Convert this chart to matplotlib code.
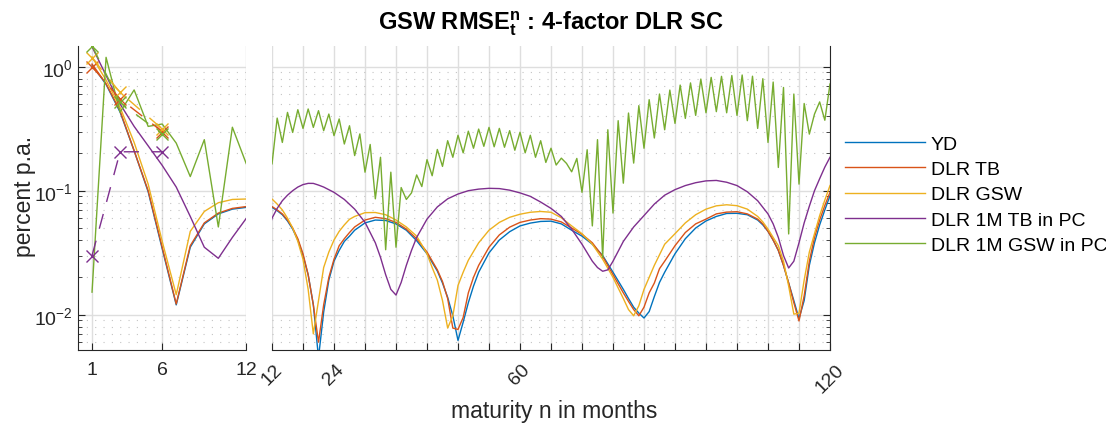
import numpy as np
import matplotlib
matplotlib.use("Agg")
import matplotlib.pyplot as plt
from matplotlib.ticker import LogLocator, FixedLocator, FixedFormatter, NullFormatter

plt.rcParams['font.family'] = ['Liberation Sans', 'DejaVu Sans']
plt.rcParams['mathtext.fontset'] = 'custom'
plt.rcParams['mathtext.rm'] = 'Liberation Sans'
plt.rcParams['mathtext.it'] = 'Liberation Sans:italic'
plt.rcParams['mathtext.bf'] = 'Liberation Sans:bold'

# ---- data, maturities in months ----
yd_m = [1, 2, 3, 4, 5, 6, 7, 8, 9, 10, 11, 12, 13, 14, 15, 16, 17, 18, 19, 20,
        21, 22, 23, 24, 25, 26, 27, 28, 30, 32, 34, 36, 38, 40, 42, 44, 45, 46,
        47, 48, 49, 50, 51, 52, 54, 56, 58, 60, 62, 64, 66, 68, 70, 72, 74, 76,
        78, 80, 81, 82, 83, 84, 85, 86, 87, 88, 90, 92, 94, 96, 98, 100, 102,
        104, 106, 107, 108, 109, 110, 111, 112, 113, 114, 115, 116, 117, 118,
        119, 120]
yd = [1.03, 0.72, 0.43, 0.21, 0.098, 0.034, 0.012, 0.035, 0.054, 0.065, 0.071,
      0.0734, 0.069, 0.064, 0.057, 0.049, 0.04, 0.03, 0.021, 0.012, 0.0045,
      0.0105, 0.019, 0.027, 0.033, 0.039, 0.043, 0.048, 0.055, 0.058, 0.0575,
      0.054, 0.048, 0.0395, 0.031, 0.0225, 0.018, 0.0138, 0.0098, 0.0062,
      0.0087, 0.0125, 0.017, 0.022, 0.0315, 0.04, 0.0467, 0.052, 0.0548,
      0.0565, 0.0568, 0.054, 0.048, 0.043, 0.037, 0.03, 0.022, 0.016, 0.0135,
      0.0115, 0.0103, 0.0094, 0.0106, 0.014, 0.0182, 0.022, 0.031, 0.041,
      0.05, 0.057, 0.062, 0.0655, 0.0657, 0.064, 0.058, 0.053, 0.047, 0.04,
      0.033, 0.025, 0.018, 0.013, 0.0093, 0.013, 0.025, 0.038, 0.053, 0.07,
      0.091]

tb_m = [1, 2, 3, 4, 5, 6, 7, 8, 9, 10, 11, 12, 13, 14, 15, 16, 17, 18, 19, 20,
        21, 22, 23, 24, 25, 26, 27, 28, 30, 32, 34, 36, 38, 40, 42, 44, 45, 46,
        47, 48, 49, 50, 51, 52, 54, 56, 58, 60, 62, 64, 66, 68, 70, 72, 74, 76,
        78, 80, 81, 82, 83, 84, 85, 86, 87, 88, 90, 92, 94, 96, 98, 100, 102,
        104, 106, 107, 108, 109, 110, 111, 112, 113, 114, 115, 116, 117, 118,
        119, 120]
tb = [1.05, 0.73, 0.44, 0.21, 0.1, 0.035, 0.0122, 0.036, 0.055, 0.066, 0.072,
      0.0745, 0.07, 0.065, 0.058, 0.05, 0.041, 0.031, 0.021, 0.012, 0.006,
      0.012, 0.02, 0.028, 0.036, 0.041, 0.046, 0.051, 0.058, 0.061, 0.0595,
      0.0555, 0.049, 0.041, 0.032, 0.023, 0.0185, 0.0135, 0.0078, 0.0076,
      0.0095, 0.015, 0.02, 0.025, 0.035, 0.044, 0.0508, 0.0555, 0.058, 0.0595,
      0.059, 0.056, 0.05, 0.0445, 0.038, 0.0295, 0.021, 0.015, 0.0128, 0.011,
      0.0098, 0.0115, 0.015, 0.018, 0.0235, 0.027, 0.036, 0.046, 0.054, 0.059,
      0.065, 0.0672, 0.0677, 0.065, 0.059, 0.054, 0.047, 0.04, 0.033, 0.025,
      0.018, 0.0125, 0.0089, 0.0142, 0.027, 0.042, 0.058, 0.076, 0.097]

gsw_m = [1, 2, 3, 4, 5, 6, 7, 8, 9, 10, 11, 12, 13, 14, 15, 16, 17, 18, 19, 20,
         21, 22, 23, 24, 25, 26, 27, 28, 30, 32, 34, 36, 38, 40, 42, 43, 44, 45,
         46, 47, 48, 49, 50, 52, 54, 56, 58, 60, 62, 64, 66, 68, 70, 72, 74, 76,
         78, 80, 81, 82, 83, 84, 85, 86, 88, 90, 92, 94, 96, 98, 100, 102, 104,
         106, 107, 108, 109, 110, 111, 112, 113, 114, 115, 116, 117, 118, 119,
         120]
gsw = [1.2, 0.78, 0.47, 0.245, 0.113, 0.039, 0.0145, 0.047, 0.068, 0.08, 0.085,
       0.0857, 0.078, 0.07, 0.06, 0.05, 0.039, 0.028, 0.016, 0.007, 0.013,
       0.024, 0.032, 0.04, 0.047, 0.053, 0.0588, 0.062, 0.0665, 0.0667, 0.064,
       0.058, 0.051, 0.043, 0.031, 0.024, 0.019, 0.013, 0.0078, 0.0098, 0.0172,
       0.022, 0.0275, 0.038, 0.048, 0.0555, 0.061, 0.0646, 0.067, 0.068, 0.067,
       0.0605, 0.052, 0.045, 0.037, 0.028, 0.02, 0.0135, 0.011, 0.0098, 0.0118,
       0.016, 0.02, 0.025, 0.037, 0.045, 0.055, 0.064, 0.071, 0.0755, 0.077,
       0.0757, 0.071, 0.062, 0.056, 0.049, 0.042, 0.036, 0.027, 0.017, 0.0101,
       0.0103, 0.019, 0.032, 0.045, 0.063, 0.084, 0.11]

pctb_m = [1, 2, 3, 4, 5, 6, 7, 8, 9, 10, 11, 12, 13, 14, 15, 16, 17, 18, 19, 20,
          21, 22, 24, 26, 28, 30, 32, 33, 34, 35, 36, 37, 38, 39, 40, 42, 44,
          46, 48, 50, 52, 54, 56, 58, 60, 62, 64, 66, 68, 70, 72, 74, 75, 76,
          77, 78, 80, 82, 84, 86, 88, 90, 92, 94, 96, 98, 100, 102, 104, 106,
          108, 109, 110, 111, 112, 113, 114, 115, 116, 117, 118, 119, 120]
pctb = [1.45, 0.85, 0.5, 0.33, 0.23, 0.16, 0.107, 0.062, 0.035, 0.0285, 0.042,
        0.06, 0.072, 0.083, 0.092, 0.1, 0.107, 0.112, 0.1146, 0.1145, 0.111,
        0.107, 0.097, 0.085, 0.071, 0.0556, 0.038, 0.029, 0.021, 0.016, 0.0144,
        0.0182, 0.025, 0.033, 0.042, 0.059, 0.074, 0.086, 0.094, 0.1, 0.103,
        0.1045, 0.104, 0.101, 0.096, 0.09, 0.081, 0.072, 0.062, 0.049, 0.037,
        0.027, 0.024, 0.0224, 0.023, 0.027, 0.039, 0.051, 0.063, 0.078, 0.092,
        0.102, 0.11, 0.116, 0.12, 0.121, 0.117, 0.11, 0.098, 0.083, 0.065,
        0.054, 0.042, 0.03, 0.0238, 0.027, 0.038, 0.055, 0.075, 0.1, 0.125,
        0.155, 0.186]

pcgsw_m = list(range(1, 121))
pcgsw = [0.0152, 1.19, 0.43, 0.65, 0.33, 0.345, 0.242, 0.13, 0.258, 0.051,
         0.325, 0.164, 0.385, 0.245, 0.428, 0.295, 0.45, 0.318, 0.456, 0.324,
         0.442, 0.305, 0.415, 0.278, 0.379, 0.238, 0.334, 0.192, 0.287, 0.141,
         0.236, 0.086, 0.186, 0.0334, 0.141, 0.035, 0.106, 0.085, 0.096, 0.134,
         0.108, 0.178, 0.132, 0.215, 0.157, 0.253, 0.186, 0.28, 0.202, 0.302,
         0.22, 0.314, 0.228, 0.324, 0.226, 0.318, 0.224, 0.305, 0.212, 0.296,
         0.202, 0.28, 0.186, 0.253, 0.169, 0.22, 0.161, 0.183, 0.166, 0.142,
         0.182, 0.097, 0.214, 0.052, 0.258, 0.0288, 0.31, 0.066, 0.367, 0.115,
         0.423, 0.167, 0.485, 0.22, 0.542, 0.266, 0.602, 0.31, 0.648, 0.349,
         0.711, 0.383, 0.74, 0.405, 0.795, 0.425, 0.82, 0.434, 0.836, 0.425,
         0.85, 0.405, 0.857, 0.367, 0.838, 0.318, 0.8, 0.245, 0.752, 0.154,
         0.68, 0.0448, 0.602, 0.113, 0.505, 0.286, 0.415, 0.52, 0.37, 0.725]

# dashed x-marker series at selected maturities
sel_m = [1, 3, 6]
sel_tb = [1.0, 0.55, 0.30]
sel_gsw = [1.18, 0.62, 0.315]
sel_pctb = [0.030, 0.206, 0.206]
sel_pcgsw = [1.48, 0.515, 0.286]

labels = ["YD", "DLR TB", "DLR GSW", "DLR 1M TB in PC", "DLR 1M GSW in PC"]
colors = ["#0072BD", "#D95319", "#EDB120", "#7E2F8E", "#77AC30"]
series = [(yd_m, yd), (tb_m, tb), (gsw_m, gsw), (pctb_m, pctb), (pcgsw_m, pcgsw)]

axcol = "#262626"
W, H = 1106, 427
fig = plt.figure(figsize=(W / 100, H / 100), dpi=100)
axL = fig.add_axes([78 / W, 76.3 / H, 168.4 / W, 304 / H])
axR = fig.add_axes([272 / W, 76.3 / H, 558 / W, 304 / H])

handles = []
for ax in (axL, axR):
    for (m, v), c, lab in zip(series, colors, labels):
        ln, = ax.plot(m, v, color=c, lw=1.0, label=lab)
        if ax is axR:
            handles.append(ln)
    ax.set_yscale("log")
    ax.set_ylim(0.00522, 1.477)
    ax.yaxis.set_major_locator(LogLocator(base=10, numticks=10))
    ax.yaxis.set_minor_locator(LogLocator(base=10, subs=np.arange(2, 10), numticks=10))
    ax.set_axisbelow(True)
    ax.grid(True, which="major", color="#dedede", lw=1.0, ls="-")
    ax.grid(True, which="minor", axis="y", color="#c4c4c4", lw=0.8, ls=(0, (1, 6.5)))
    ax.spines["top"].set_visible(False)
    for s in ax.spines.values():
        s.set_color(axcol)
    ax.tick_params(which="both", direction="in", colors=axcol, labelsize=14)
    ax.tick_params(which="major", length=5)
    ax.tick_params(which="minor", length=3)
    ax.tick_params(axis="x", pad=8)

# dashed series with markers, left panel only
for v, c in zip([sel_tb, sel_gsw, sel_pctb, sel_pcgsw], [colors[1], colors[2], colors[3], colors[4]]):
    axL.plot(sel_m, v, color=c, lw=1.0, ls=(0, (11, 9)), marker="x", ms=9, mew=1.0)

axL.set_xlim(0, 12)
axL.set_xticks([1, 6, 12])
axL.spines["right"].set_visible(False)
axL.tick_params(axis="y", pad=4)

axR.set_xlim(12, 120)
rt = list(range(12, 121, 6))
axR.xaxis.set_major_locator(FixedLocator(rt))
axR.xaxis.set_major_formatter(FixedFormatter([str(t) if t in (12, 24, 60, 120) else "" for t in rt]))
plt.setp(axR.get_xticklabels(), rotation=45, ha="center")
axR.spines["left"].set_visible(False)
axR.yaxis.tick_right()
axR.tick_params(axis="y", which="both", labelright=False)
axR.yaxis.set_minor_formatter(NullFormatter())

fig.text(551 / W, 1 - 30 / H, r"GSW RMSE$_\mathbf{t}^\mathbf{n}$ : 4-factor DLR SC",
         ha="center", va="baseline", fontsize=17, fontweight="bold", color="black")
fig.text(24 / W, 1 - 196 / H, "percent p.a.", rotation=90, ha="center", va="center",
         fontsize=16.5, color=axcol)
fig.text(554 / W, 1 - 412 / H, "maturity n in months", ha="center", va="center",
         fontsize=16.5, color=axcol)

fig.legend(handles, labels, loc="upper left", bbox_to_anchor=(845 / W, 1 - 136 / H),
           frameon=False, handlelength=4.1, handletextpad=0.3, labelspacing=0.4,
           fontsize=14, borderpad=0, borderaxespad=0)

fig.savefig("out.png", dpi=100)
